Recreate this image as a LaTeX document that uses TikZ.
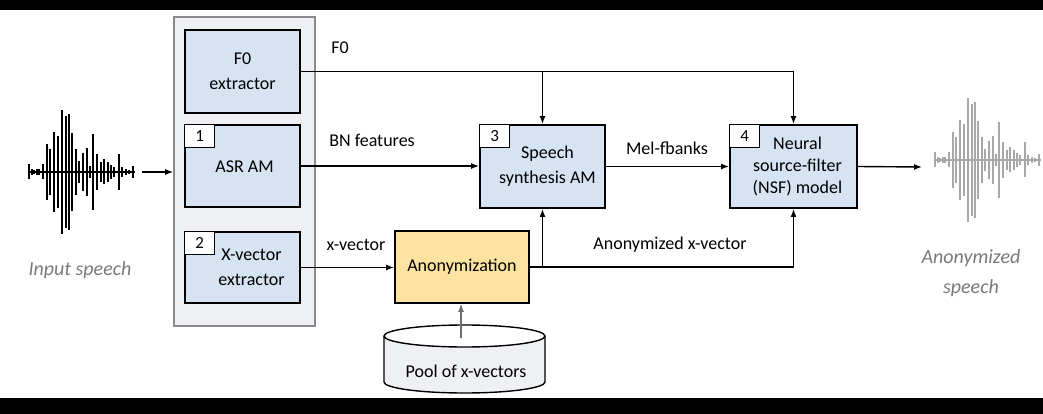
\documentclass[tikz,border=0pt]{standalone}
\usepackage{fontspec}
\setmainfont{Carlito}
\usetikzlibrary{arrows.meta,calc}
\definecolor{boxblue}{HTML}{D5E3F2}
\definecolor{boxyellow}{HTML}{FDE3A0}
\definecolor{groupgray}{HTML}{EEF0F3}
\definecolor{groupedge}{HTML}{8A8A8A}
\definecolor{wavegray}{HTML}{A8A8A8}
\definecolor{labelgray}{HTML}{7A7A7A}
\newcommand{\wavebars}{%
  29/7.5, 31.7/3.3, 34/2.3, 36.7/3.3, 39.3/3.3, 42.7/7.5, 46.7/28, 50/23, 54/40,
  57.7/36, 61.7/62, 65.7/56, 69/58, 72.3/39, 75.7/23, 79.3/11, 82.7/19, 86.7/24,
  90/6, 93.3/37.5, 97.3/18, 101/10, 104.3/12.5, 107.7/10, 111/6.7, 114.3/5,
  119/17.5, 122.3/4.7, 125.7/3.3, 129/1.7, 133.3/6.2}
\begin{document}
\begin{tikzpicture}[x=1pt,y=-1pt,
  every node/.style={font=\fontsize{18}{25}\selectfont},
  procbox/.style={draw=black, line width=1.8pt, fill=boxblue, inner sep=0pt},
  tagbox/.style={draw=black, line width=1.2pt, fill=white, minimum width=30pt, minimum height=23pt, inner sep=0pt, anchor=north west, font=\fontsize{17}{20}\selectfont},
  conn/.style={line width=1.4pt, -{Latex[length=8pt,width=6pt]}},
  plain/.style={line width=1.4pt},
  lbl/.style={font=\fontsize{18}{22}\selectfont},
  italbl/.style={font=\fontsize{20}{30}\selectfont\itshape, text=labelgray, align=center}]
\useasboundingbox (0,0) rectangle (1043,414);
\fill[white] (0,0) rectangle (1043,414);
\fill[black] (0,0) rectangle (1043,10);
\fill[black] (0,398) rectangle (1043,414);

% group box
\node[draw=groupedge, line width=1.6pt, fill=groupgray, minimum width=141pt, minimum height=309pt, inner sep=0pt] (group) at (244.5,171.5) {};

% processing boxes
\node[procbox, minimum width=115pt, minimum height=83pt] (f0) at (242.5,71.5) {};
\node[align=center] (f0t) at (f0.center) {F0\\extractor};
\node[procbox, minimum width=115pt, minimum height=82pt] (asr) at (242.5,166) {};
\node (asrt) at ($(asr.center)+(2,1)$) {ASR AM};
\node[tagbox] (tag1) at (asr.north west) {1};
\node[procbox, minimum width=115pt, minimum height=71pt] (xvec) at (242.5,267.5) {};
\node[align=center] (xvect) at ($(xvec.center)+(9,0)$) {X-vector\\extractor};
\node[tagbox] (tag2) at (xvec.north west) {2};

\node[procbox, minimum width=125pt, minimum height=83pt] (synth) at (542.5,166.5) {};
\node[align=center] (syntht) at ($(synth.center)+(5,0)$) {Speech\\synthesis AM};
\node[tagbox] (tag3) at (synth.north west) {3};

\node[procbox, minimum width=127pt, minimum height=83pt] (nsf) at (793.5,166.5) {};
\node[align=center, font=\fontsize{18}{22}\selectfont] (nsft) at ($(nsf.center)+(4,0)$) {Neural\\source-filter\\(NSF) model};
\node[tagbox] (tag4) at (nsf.north west) {4};

\node[draw=black, line width=1.8pt, fill=boxyellow, minimum width=134pt, minimum height=72pt, inner sep=0pt] (anon) at (462,267) {};
\node (anont) at (anon.center) {Anonymization};

% pool cylinder
\fill[groupgray] (384,336) -- (384,382) arc[start angle=180, end angle=360, x radius=80.5, y radius=-11] -- (545,336) arc[start angle=0, end angle=180, x radius=80.5, y radius=11] -- cycle;
\draw[line width=1.4pt] (384,336) -- (384,382) arc[start angle=180, end angle=360, x radius=80.5, y radius=-11] -- (545,336);
\draw[line width=1.4pt] (464.5,336) ellipse[x radius=80.5, y radius=11];
\node (pool) at (466,371) {Pool of x-vectors};
\coordinate (pooltop) at (461,338);

% connectors
\coordinate (j1) at (synth.north |- f0.east);
\coordinate (j2) at (synth.south |- anon.east);
\draw[conn] (f0.east) -| (nsf.north);
\draw[conn] (j1) -- (synth.north);
\draw[conn] (asr.east) -- (asr.east -| synth.west);
\draw[conn] (xvec.east) -- (xvec.east -| anon.west);
\draw[conn] (anon.east) -| (nsf.south);
\draw[conn] (j2) -- (synth.south);
\draw[conn] (synth.east) -- (synth.east -| nsf.west);
\coordinate (outend) at (922,167);
\draw[conn] (nsf.east) -- (outend);
\coordinate (instart) at (142,172);
\draw[conn] (instart) -- (instart -| group.west);
\draw[line width=1.2pt, draw=groupedge!80!black, -{Latex[length=8pt,width=6pt]}] (pooltop) -- (pooltop |- anon.south);

% labels
\node[lbl] (lf0) at (340,48) {F0};
\node[lbl] (lbn) at (372,140) {BN features};
\node[lbl] (lxv) at (356,245) {x-vector};
\node[lbl] (lmel) at (667,148) {Mel-fbanks};
\node[lbl] (lanx) at (670,245) {Anonymized x-vector};

% waveforms
\draw[line width=1.2pt] (29,172) -- (135,172);
\foreach \x/\h in \wavebars { \draw[line width=2.3pt] (\x,172-\h) -- (\x,172+\h); }
\begin{scope}[xshift=906pt, yshift=6pt]
\draw[line width=1.2pt, wavegray] (29,166) -- (135,166);
\foreach \x/\h in \wavebars { \draw[line width=2.3pt, wavegray] (\x,166-\h) -- (\x,166+\h); }
\end{scope}

\node[italbl] (lin) at (80,270) {Input speech};
\node[italbl] (lout) at (971,273) {Anonymized\\speech};
\end{tikzpicture}
\end{document}
